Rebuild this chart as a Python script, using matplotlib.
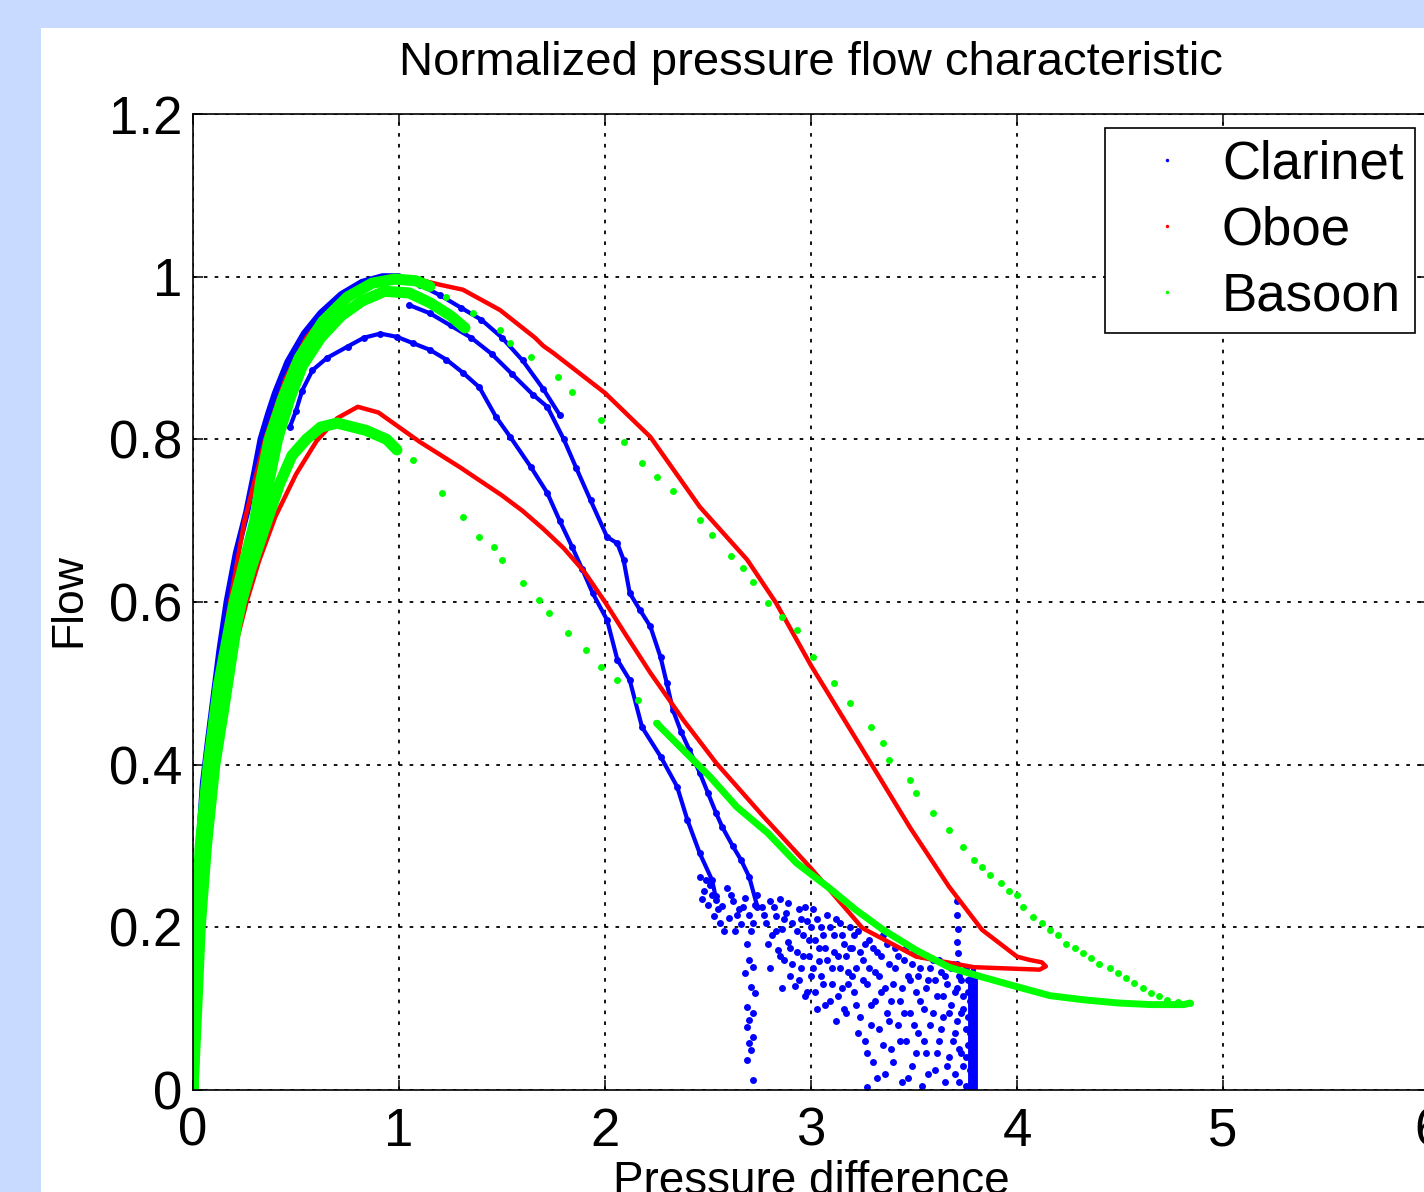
import matplotlib
matplotlib.use("Agg")
import matplotlib.pyplot as plt
from matplotlib.lines import Line2D
from matplotlib.patches import Rectangle

plt.rcParams['font.family'] = ['Liberation Sans', 'DejaVu Sans']

# ---------------- data ----------------
x_ticks = [0, 1, 2, 3, 4, 5, 6]
y_ticks = [0, 0.2, 0.4, 0.6, 0.8, 1.0, 1.2]
y_tick_labels = ["0", "0.2", "0.4", "0.6", "0.8", "1", "1.2"]

# Clarinet (blue)
clar_rise_x = [0.0, 0.002, 0.01, 0.025, 0.034, 0.05, 0.075, 0.10, 0.13, 0.165, 0.21, 0.26, 0.30, 0.33,
               0.365, 0.40, 0.46, 0.54, 0.62, 0.72, 0.82, 0.92, 1.0]
clar_rise_y = [0.0, 0.11, 0.19, 0.27, 0.316, 0.377, 0.43, 0.48, 0.54, 0.60, 0.66, 0.71, 0.76, 0.80,
               0.83, 0.857, 0.895, 0.93, 0.955, 0.978, 0.993, 1.0, 1.0]
clar_peak_x = [1.0, 1.1, 1.2, 1.3, 1.4, 1.5, 1.6, 1.7, 1.78]
clar_peak_y = [1.0, 0.99, 0.977, 0.962, 0.947, 0.925, 0.897, 0.862, 0.83]
clar_upper_x = [1.05, 1.15, 1.25, 1.35, 1.45, 1.55, 1.65, 1.72, 1.80, 1.86, 1.93, 2.01, 2.06, 2.09, 2.12,
                2.17, 2.22, 2.27, 2.30, 2.33, 2.37, 2.41, 2.46, 2.50, 2.54, 2.57, 2.62, 2.66, 2.70, 2.74]
clar_upper_y = [0.965, 0.955, 0.94, 0.925, 0.905, 0.88, 0.855, 0.84, 0.80, 0.765, 0.725, 0.68, 0.672, 0.652,
                0.611, 0.59, 0.57, 0.532, 0.50, 0.467, 0.44, 0.418, 0.39, 0.365, 0.34, 0.323, 0.30, 0.283,
                0.262, 0.225]
clar_lower_x = [0.47, 0.50, 0.53, 0.58, 0.65, 0.75, 0.83, 0.91, 0.99, 1.07, 1.15, 1.23, 1.31, 1.39, 1.47,
                1.54, 1.64, 1.72, 1.78, 1.84, 1.89, 1.94, 2.01, 2.06, 2.12, 2.18, 2.27, 2.35, 2.40, 2.46,
                2.52, 2.54]
clar_lower_y = [0.815, 0.835, 0.86, 0.885, 0.90, 0.914, 0.925, 0.93, 0.926, 0.918, 0.91, 0.898, 0.882, 0.864,
                0.828, 0.803, 0.766, 0.734, 0.70, 0.668, 0.64, 0.611, 0.578, 0.529, 0.504, 0.446, 0.41,
                0.373, 0.332, 0.291, 0.258, 0.234]
clar_cloud_x = [2.46, 2.48, 2.50, 2.51, 2.53, 2.54, 2.56, 2.57, 2.59, 2.60, 2.62, 2.63, 2.65, 2.66, 2.68,
                2.70, 2.71, 2.73,
                2.69, 2.70, 2.72, 2.68, 2.71, 2.73, 2.69, 2.72, 2.70, 2.69, 2.72, 2.70, 2.71, 2.69, 2.72,
                2.76, 2.78, 2.80, 2.81, 2.83, 2.84, 2.85, 2.86, 2.87, 2.88, 2.89, 2.90, 2.91, 2.92, 2.93,
                2.94, 2.95, 2.96, 2.97, 2.98, 2.99, 3.00, 3.01, 3.02, 3.03, 3.04, 3.05, 3.06, 3.07, 3.08,
                3.09, 3.10, 3.11, 3.12, 3.13, 3.14, 3.15, 3.16, 3.17, 3.18, 3.19,
                3.20, 3.21, 3.22, 3.23, 3.24, 3.25, 3.26, 3.27, 3.27, 3.28, 3.29, 3.30, 3.31, 3.32, 3.33,
                3.34, 3.35, 3.36, 3.37, 3.38, 3.39, 3.40, 3.41, 3.42, 3.43, 3.44, 3.45, 3.46, 3.47, 3.48,
                3.49, 3.50, 3.51, 3.52, 3.53, 3.54, 3.55, 3.56, 3.57, 3.58, 3.59, 3.60, 3.61, 3.62, 3.63,
                3.64, 3.65, 3.66, 3.67, 3.68, 3.69, 3.70, 3.70, 3.71, 3.72, 3.72, 3.73, 3.74, 3.74, 3.75,
                3.75, 3.76, 3.76,
                3.71, 3.71, 3.715, 3.71, 3.715, 3.71]
clar_cloud_y = [0.262, 0.245, 0.228, 0.252, 0.214, 0.238, 0.205, 0.226, 0.248, 0.212, 0.232, 0.196, 0.222,
                0.204, 0.236, 0.215, 0.195, 0.228,
                0.180, 0.160, 0.151, 0.144, 0.127, 0.119, 0.102, 0.095, 0.086, 0.077, 0.065, 0.058, 0.049,
                0.037, 0.012,
                0.225, 0.205, 0.232, 0.190, 0.214, 0.172, 0.235, 0.198, 0.160, 0.218, 0.182, 0.140, 0.205,
                0.128, 0.170, 0.222, 0.150, 0.190, 0.115, 0.208, 0.165, 0.140, 0.222, 0.185, 0.100, 0.158,
                0.200, 0.130, 0.175, 0.215, 0.110, 0.150, 0.190, 0.085, 0.165, 0.205, 0.125, 0.180, 0.095,
                0.145, 0.200,
                0.175, 0.120, 0.150, 0.195, 0.090, 0.160, 0.060, 0.130, 0.004, 0.185, 0.105, 0.035, 0.145,
                0.170, 0.075, 0.120, 0.190, 0.020, 0.095, 0.155, 0.050, 0.130, 0.175, 0.080, 0.110, 0.010,
                0.160, 0.060, 0.140, 0.095, 0.030, 0.170, 0.120, 0.070, 0.150, 0.005, 0.100, 0.045, 0.135,
                0.080, 0.160, 0.025, 0.115, 0.060, 0.145, 0.090, 0.010, 0.130, 0.040, 0.105, 0.155, 0.070,
                0.020, 0.125, 0.050, 0.140, 0.095, 0.030, 0.115, 0.075, 0.005, 0.135, 0.055,
                0.232, 0.215, 0.198, 0.182, 0.168, 0.155]
clar_cloud2_x = [2.47, 2.49, 2.52, 2.55, 2.58, 2.61, 2.64, 2.67, 2.72, 2.74,
                 2.77, 2.79, 2.80, 2.82, 2.83, 2.85, 2.86, 2.87, 2.89, 2.90, 2.91, 2.93, 2.94, 2.95, 2.96,
                 2.97, 2.98, 2.99, 3.00, 3.01, 3.02, 3.03, 3.04, 3.05, 3.06, 3.07, 3.08, 3.09, 3.10, 3.11,
                 3.12, 3.13, 3.14, 3.15, 3.16, 3.17, 3.18, 3.19,
                 3.20, 3.21, 3.22, 3.23, 3.24, 3.25, 3.26, 3.27, 3.28, 3.29, 3.30, 3.31, 3.32, 3.33, 3.34,
                 3.35, 3.36, 3.37, 3.38, 3.39, 3.40, 3.41, 3.42, 3.43, 3.44, 3.45, 3.46, 3.47, 3.48, 3.49,
                 3.50, 3.51, 3.52, 3.53, 3.54, 3.55, 3.56, 3.57, 3.58, 3.59, 3.60, 3.61, 3.62, 3.63, 3.64,
                 3.65, 3.66, 3.67, 3.68, 3.69, 3.70, 3.71, 3.72, 3.73, 3.73, 3.74, 3.75, 3.75, 3.76, 3.76,
                 3.77, 3.77, 3.77]
clar_cloud2_y = [0.235, 0.258, 0.240, 0.222, 0.195, 0.240, 0.215, 0.225, 0.205, 0.240,
                 0.215, 0.180, 0.150, 0.225, 0.195, 0.165, 0.125, 0.210, 0.230, 0.175, 0.155, 0.195, 0.135,
                 0.210, 0.165, 0.225, 0.120, 0.185, 0.200, 0.150, 0.120, 0.210, 0.175, 0.140, 0.190, 0.105,
                 0.160, 0.200, 0.130, 0.170, 0.210, 0.115, 0.150, 0.190, 0.100, 0.165, 0.130, 0.175,
                 0.140, 0.190, 0.105, 0.070, 0.170, 0.135, 0.180, 0.045, 0.150, 0.080, 0.175, 0.110, 0.015,
                 0.140, 0.165, 0.055, 0.125, 0.180, 0.085, 0.110, 0.035, 0.150, 0.165, 0.060, 0.125, 0.095,
                 0.175, 0.015, 0.135, 0.155, 0.080, 0.045, 0.140, 0.110, 0.165, 0.060, 0.125, 0.020, 0.150,
                 0.095, 0.135, 0.045, 0.160, 0.075, 0.115, 0.140, 0.030, 0.095, 0.150, 0.060, 0.120, 0.085,
                 0.010, 0.135, 0.045, 0.100, 0.150, 0.040, 0.090, 0.120, 0.025, 0.070, 0.110]
clar_column_x = [3.772, 3.785, 3.797]
clar_column_top = [0.14, 0.15, 0.145]

# Oboe (red) - one closed loop
oboe_x = [0.0, 0.006, 0.018, 0.035, 0.058, 0.09, 0.125, 0.165, 0.215, 0.26, 0.32, 0.40, 0.50, 0.60, 0.70,
          0.80, 0.90, 1.0, 1.1, 1.2, 1.3, 1.4, 1.5, 1.6, 1.7, 1.8, 1.9, 2.0, 2.1, 2.22, 2.38, 2.54, 2.77,
          2.995, 3.25, 3.51, 3.79, 4.0, 4.11, 4.14, 4.12, 4.06, 4.0, 3.83, 3.67, 3.48, 3.29, 3.15, 3.0,
          2.83, 2.69, 2.46, 2.22, 2.0, 1.75, 1.70, 1.66, 1.49, 1.31, 1.2, 1.07, 0.95, 0.85, 0.75, 0.65,
          0.55, 0.45, 0.35, 0.25, 0.18, 0.12, 0.07, 0.04, 0.02, 0.008, 0.0]
oboe_y = [0.0, 0.05, 0.12, 0.2, 0.27, 0.35, 0.42, 0.49, 0.555, 0.60, 0.65, 0.705, 0.757, 0.798, 0.826,
          0.84, 0.833, 0.815, 0.797, 0.781, 0.765, 0.748, 0.731, 0.712, 0.69, 0.666, 0.637, 0.60, 0.56,
          0.513, 0.455, 0.402, 0.336, 0.274, 0.199, 0.164, 0.151, 0.149, 0.148, 0.152, 0.157, 0.16,
          0.164, 0.197, 0.25, 0.323, 0.402, 0.46, 0.522, 0.599, 0.652, 0.717, 0.803, 0.857, 0.906, 0.915,
          0.925, 0.959, 0.984, 0.99, 0.998, 1.0, 0.99, 0.975, 0.955, 0.925, 0.875, 0.80, 0.70, 0.60, 0.50,
          0.40, 0.30, 0.20, 0.10, 0.0]

# Basoon (green)
bas_outer_x = [0.0, 0.006, 0.015, 0.035, 0.074, 0.125, 0.20, 0.25, 0.30, 0.33, 0.37, 0.435, 0.515, 0.63,
               0.75, 0.87, 0.98, 1.08, 1.15]
bas_outer_y = [0.0, 0.1, 0.2, 0.3, 0.4, 0.5, 0.6, 0.65, 0.7, 0.75, 0.8, 0.85, 0.9, 0.945, 0.975, 0.992,
               0.997, 0.995, 0.988]
bas_mid_x = [0.0, 0.012, 0.025, 0.05, 0.09, 0.14, 0.215, 0.27, 0.33, 0.37, 0.41, 0.47, 0.53, 0.62, 0.72,
             0.82, 0.93, 1.05, 1.15, 1.25, 1.32]
bas_mid_y = [0.0, 0.1, 0.2, 0.3, 0.4, 0.5, 0.6, 0.65, 0.7, 0.75, 0.8, 0.85, 0.89, 0.925, 0.952, 0.97,
             0.982, 0.98, 0.968, 0.952, 0.937]
bas_inner_x = [0.0, 0.018, 0.035, 0.065, 0.106, 0.15, 0.18, 0.21, 0.235, 0.28, 0.36, 0.42, 0.48, 0.55,
               0.62, 0.70, 0.84, 0.94, 0.99]
bas_inner_y = [0.0, 0.1, 0.2, 0.3, 0.4, 0.47, 0.52, 0.57, 0.6, 0.64, 0.7, 0.745, 0.78, 0.80, 0.815, 0.82,
               0.811, 0.80, 0.787]
bas_upper_x = [1.23, 1.36, 1.49, 1.54, 1.64, 1.77, 1.84, 1.98, 2.09, 2.18, 2.25, 2.33, 2.46, 2.52, 2.61,
               2.67, 2.72, 2.79, 2.86, 2.93, 3.01, 3.11, 3.19, 3.29, 3.35, 3.38, 3.48, 3.51, 3.59, 3.67,
               3.74]
bas_upper_y = [0.975, 0.955, 0.934, 0.918, 0.901, 0.877, 0.858, 0.824, 0.797, 0.771, 0.754, 0.736, 0.701,
               0.682, 0.656, 0.642, 0.625, 0.599, 0.582, 0.566, 0.532, 0.50, 0.476, 0.446, 0.427, 0.406,
               0.381, 0.365, 0.341, 0.32, 0.299]
bas_tail_x = [3.79, 3.83, 3.87, 3.92, 3.96, 4.0, 4.03, 4.08, 4.12, 4.16, 4.20, 4.24, 4.28, 4.32, 4.36,
              4.40, 4.45, 4.49, 4.53, 4.57, 4.61, 4.65, 4.69, 4.73, 4.78, 4.84]
bas_tail_y = [0.283, 0.274, 0.264, 0.254, 0.245, 0.24, 0.225, 0.213, 0.205, 0.197, 0.19, 0.18, 0.174,
              0.168, 0.162, 0.155, 0.15, 0.144, 0.138, 0.132, 0.125, 0.119, 0.115, 0.111, 0.108, 0.107]
bas_lower_x = [1.07, 1.21, 1.31, 1.39, 1.46, 1.50, 1.60, 1.68, 1.73, 1.82, 1.91, 1.98, 2.06, 2.16, 2.25]
bas_lower_y = [0.775, 0.734, 0.705, 0.68, 0.668, 0.652, 0.623, 0.602, 0.586, 0.562, 0.541, 0.52, 0.504,
               0.48, 0.451]
bas_dense_x = [2.25, 2.38, 2.51, 2.64, 2.79, 2.93, 3.08, 3.22, 3.35, 3.51, 3.67, 3.83, 4.0, 4.16, 4.32,
               4.49, 4.65, 4.81, 4.84]
bas_dense_y = [0.451, 0.418, 0.385, 0.348, 0.316, 0.279, 0.25, 0.221, 0.197, 0.172, 0.151, 0.139, 0.127,
               0.116, 0.111, 0.107, 0.105, 0.105, 0.107]

BLUE = "#0000ff"
RED = "#ff0000"
GREEN = "#00ff00"

fig = plt.figure(figsize=(14.24, 11.92), dpi=100, facecolor="#c8daff")
fig.patches.append(Rectangle((41 / 1424, 0), 1, 1 - 28 / 1192, transform=fig.transFigure,
                             facecolor="white", edgecolor="none", zorder=-10))
ax = fig.add_axes([193 / 1424, 102 / 1192, 1236 / 1424, 976 / 1192])
ax.set_zorder(5)

# clarinet
ax.plot(clar_rise_x, clar_rise_y, color=BLUE, lw=5, solid_capstyle="round", solid_joinstyle="round")
for bx, by in [(clar_peak_x, clar_peak_y), (clar_upper_x, clar_upper_y), (clar_lower_x, clar_lower_y)]:
    ax.plot(bx, by, color=BLUE, lw=3, marker="o", ms=5, mew=0, solid_joinstyle="round")
ax.plot(clar_cloud_x, clar_cloud_y, ls="none", color=BLUE, marker="o", ms=5, mew=0)
ax.plot(clar_cloud2_x, clar_cloud2_y, ls="none", color=BLUE, marker="o", ms=5, mew=0)
ax.vlines(clar_column_x, 0, clar_column_top, color=BLUE, lw=3.5)

# oboe
ax.plot(oboe_x, oboe_y, color=RED, lw=3.2, solid_joinstyle="round")

# basoon
for gx, gy in [(bas_outer_x, bas_outer_y), (bas_mid_x, bas_mid_y), (bas_inner_x, bas_inner_y)]:
    ax.plot(gx, gy, color=GREEN, lw=8, solid_capstyle="round", solid_joinstyle="round")
ax.plot(bas_upper_x, bas_upper_y, ls="none", color=GREEN, marker="o", ms=5, mew=0)
ax.plot(bas_tail_x, bas_tail_y, ls="none", color=GREEN, marker="o", ms=5, mew=0)
ax.plot(bas_lower_x, bas_lower_y, ls="none", color=GREEN, marker="o", ms=5, mew=0)
ax.plot(bas_dense_x, bas_dense_y, color=GREEN, lw=5, solid_capstyle="round", solid_joinstyle="round")

ax.set_xlim(0, 6)
ax.set_ylim(0, 1.2)
ax.set_xticks(x_ticks)
ax.set_xticklabels([str(v) for v in x_ticks])
ax.set_yticks(y_ticks)
ax.set_yticklabels(y_tick_labels)
ax.tick_params(direction="in", length=7, width=1.1, labelsize=38, top=True, right=True, colors="black")
ax.tick_params(axis="x", pad=12)
ax.tick_params(axis="y", pad=8)
ax.grid(True, color="black", linestyle=(0, (2, 4)), linewidth=1.3)
for sp in ax.spines.values():
    sp.set_linewidth(1.2)
    sp.set_color("black")

ax.set_title("Normalized pressure flow characteristic", fontsize=34, pad=28)
ax.set_xlabel("Pressure difference", fontsize=33)
ax.set_ylabel("Flow", fontsize=32)
ax.xaxis.set_label_coords(0.5, -0.072)
ax.yaxis.set_label_coords(-0.0842, 0.502)

handles = [Line2D([], [], ls="none", marker="o", ms=2.5, mew=0, color=c) for c in (BLUE, RED, GREEN)]
leg = ax.legend(handles, ["Clarinet", "Oboe", "Basoon"], loc="upper right",
                bbox_to_anchor=(0.9887, 0.9857), borderaxespad=0, fontsize=38, fancybox=False,
                framealpha=1, edgecolor="black", handlelength=1.9, handletextpad=0.1,
                labelspacing=0.3, borderpad=0.22)
leg.get_frame().set_linewidth(1.2)

fig.savefig("out.png", dpi=100, facecolor=fig.get_facecolor())
